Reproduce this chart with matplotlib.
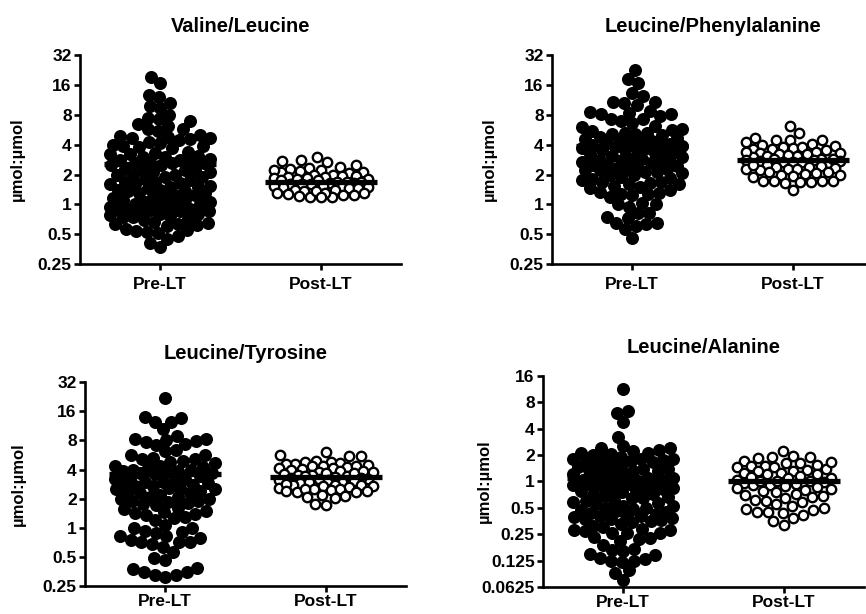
import numpy as np
import matplotlib.pyplot as plt

plt.rcParams['font.family'] = ['Liberation Sans', 'DejaVu Sans']
plt.rcParams['font.weight'] = 'bold'

groups = ['Pre-LT', 'Post-LT']
titles = ['Valine/Leucine', 'Leucine/Phenylalanine', 'Leucine/Tyrosine', 'Leucine/Alanine']
ylabel = 'µmol:µmol'

# values (µmol:µmol)
val_leu_pre = [19.5, 16.9, 12.8, 12.0, 10.6, 9.3, 9.8, 8.0, 7.2, 7.4, 6.5, 6.9,
               5.7, 5.7, 6.2, 5.5, 5.0, 4.7, 4.9, 4.8, 4.6, 4.7, 4.5, 4.3,
               4.2, 4.0, 3.9, 3.8, 3.7, 3.9, 3.4, 3.2, 3.0, 3.3, 3.1, 3.2, 2.9, 3.0,
               2.8, 2.7, 2.6, 2.5, 2.6, 2.7, 2.5, 2.8, 2.6,
               2.3, 2.2, 2.1, 2.0, 1.9, 2.0, 2.1, 2.2, 1.9, 1.8, 2.0, 2.2,
               1.75, 1.7, 1.6, 1.65, 1.5, 1.55, 1.6, 1.7, 1.45, 1.5,
               1.4, 1.35, 1.3, 1.25, 1.3, 1.35, 1.4, 1.2, 1.25,
               1.15, 1.1, 1.05, 1.0, 1.0, 1.1, 1.05, 1.15, 0.98, 1.02,
               0.95, 0.9, 0.88, 0.85, 0.9, 0.92, 0.87, 0.85, 0.9,
               0.8, 0.78, 0.75, 0.72, 0.8, 0.76, 0.74, 0.7,
               0.66, 0.64, 0.62, 0.6, 0.65, 0.63, 0.55, 0.57, 0.52, 0.54,
               0.45, 0.53, 0.48, 0.41, 0.37]
val_leu_post = [3.0, 2.8, 2.75, 2.7, 2.5, 2.4, 2.35, 2.3,
                2.2, 2.15, 2.1, 2.05, 2.2, 2.1, 2.0, 2.0,
                1.95, 1.9, 1.85, 1.9, 1.8, 1.85, 1.95, 1.8,
                1.75, 1.7, 1.65, 1.6, 1.7, 1.75, 1.65, 1.6, 1.7, 1.62,
                1.55, 1.5, 1.45, 1.5, 1.4, 1.55, 1.45, 1.4, 1.5,
                1.35, 1.3, 1.25, 1.3, 1.2, 1.35, 1.25, 1.2, 1.3, 1.28, 1.22, 1.18]

leu_phe_pre = [22.6, 18.4, 16.6, 13.4, 12.4, 10.9, 10.9, 10.6, 10.0,
               8.7, 8.4, 8.1, 7.8, 8.1, 8.5, 7.2, 6.6, 6.9, 7.3,
               6.0, 6.2, 5.7, 5.6, 5.3, 5.1, 5.1, 5.2, 5.5, 5.0,
               4.8, 4.6, 4.5, 4.4, 4.2, 4.1, 4.0, 4.3, 4.7, 4.0, 4.2,
               3.9, 3.8, 3.7, 3.6, 3.5, 3.4, 3.3, 3.2, 3.1, 3.0, 3.5, 3.7, 3.3,
               2.9, 2.8, 2.7, 2.6, 2.5, 2.4, 2.8, 2.6, 2.5, 2.7, 2.9, 2.45,
               2.3, 2.2, 2.1, 2.0, 2.0, 2.2, 2.35, 2.1, 2.05, 2.25,
               1.9, 1.8, 1.7, 1.6, 1.55, 1.65, 1.75, 1.85, 1.6, 1.5, 1.7,
               1.34, 1.27, 1.24, 1.2, 1.28, 1.4, 1.45, 1.3,
               1.04, 0.95, 1.0, 1.0, 0.82, 0.75, 0.73, 0.82,
               0.65, 0.61, 0.56, 0.64, 0.65, 0.46]
leu_phe_post = [6.15, 5.3, 4.7, 4.5, 4.5, 4.5, 4.3,
                4.0, 3.9, 3.8, 3.7, 3.6, 3.8, 3.5, 4.1, 3.6,
                3.4, 3.3, 3.25, 3.2, 3.1, 3.0, 3.3, 3.15, 3.05, 3.4,
                2.9, 2.85, 2.8, 2.75, 2.7, 2.65, 2.6, 2.8, 2.9, 2.7, 2.75,
                2.5, 2.45, 2.4, 2.35, 2.3, 2.25, 2.2, 2.4, 2.5, 2.3,
                2.1, 2.05, 2.0, 2.0, 1.95, 2.1, 2.02, 1.9,
                1.72, 1.72, 1.68, 1.7, 1.72, 1.72, 1.65, 1.39]

leu_tyr_pre = [21.8, 14.0, 13.7, 12.5, 12.3, 10.4,
               8.3, 8.1, 7.4, 7.2, 8.8, 7.6, 7.8, 8.3,
               6.2, 5.6, 5.1, 5.1, 5.7, 6.3, 4.7, 5.2, 4.8, 4.9,
               4.4, 4.2, 4.0, 3.9, 3.8, 3.7, 4.1, 3.6, 4.3, 3.9, 3.7, 4.0,
               3.4, 3.2, 3.0, 2.9, 3.3, 3.1, 2.8, 3.0, 3.2, 2.9,
               2.7, 2.6, 2.5, 2.4, 2.3, 2.2, 2.6, 2.5, 2.4, 2.7, 2.3,
               2.1, 2.0, 1.9, 1.8, 1.75, 2.0, 1.9, 1.72, 2.1, 1.85,
               1.6, 1.5, 1.42, 1.36, 1.3, 1.21, 1.28, 1.39, 1.55, 1.45,
               1.0, 0.94, 1.08, 0.91, 1.0, 0.82, 0.76, 0.89, 0.82, 0.79,
               0.64, 0.71, 0.71, 0.71, 0.68, 0.57, 0.49, 0.47,
               0.39, 0.35, 0.33, 0.31, 0.33, 0.35, 0.38]
leu_tyr_post = [6.1, 5.5, 5.5, 5.7,
                4.75, 4.75, 4.6, 4.9, 4.5, 4.7, 4.6,
                4.4, 4.3, 4.2, 4.1, 4.0, 3.9, 4.35, 4.15, 4.05,
                3.8, 3.7, 3.6, 3.5, 3.45, 3.75, 3.55, 3.65, 3.85, 3.4,
                3.3, 3.2, 3.1, 3.0, 3.25, 3.15, 3.05, 3.35, 3.2,
                2.9, 2.8, 2.7, 2.6, 2.85, 2.75, 2.65, 2.95, 2.8, 2.7,
                2.5, 2.45, 2.4, 2.36, 2.5, 2.4, 2.35, 2.55,
                2.2, 2.1, 2.02, 2.15, 1.73, 1.75]

leu_ala_pre = [11.3, 6.3, 6.0, 4.7, 3.2,
               2.5, 2.4, 2.4, 2.2, 2.1, 2.05, 2.0, 2.3, 2.1,
               1.9, 1.8, 1.8, 1.8, 1.73, 1.8, 1.7, 1.6, 1.55, 1.65, 1.75,
               1.45, 1.4, 1.35, 1.3, 1.25, 1.2, 1.4, 1.3, 1.45, 1.2, 1.35,
               1.1, 1.05, 1.0, 0.95, 0.9, 1.1, 1.0, 0.92, 1.08, 0.98, 1.05, 0.94,
               0.88, 0.85, 0.8, 0.75, 0.72, 0.82, 0.78, 0.86, 0.7, 0.8,
               0.68, 0.65, 0.6, 0.58, 0.55, 0.62, 0.66, 0.57, 0.64,
               0.52, 0.5, 0.48, 0.45, 0.43, 0.5, 0.47, 0.44, 0.53, 0.46,
               0.41, 0.4, 0.38, 0.37, 0.35, 0.34, 0.39, 0.36, 0.4, 0.33, 0.37,
               0.31, 0.29, 0.28, 0.27, 0.26, 0.26, 0.3, 0.26, 0.28,
               0.23, 0.226, 0.21, 0.19, 0.22, 0.17, 0.16, 0.167, 0.146, 0.15,
               0.134, 0.125, 0.12, 0.125, 0.13, 0.097, 0.091, 0.076]
leu_ala_post = [2.2, 1.96, 1.88, 1.88, 1.84,
                1.7, 1.6, 1.55, 1.51, 1.5, 1.45, 1.39, 1.65, 1.6, 1.45,
                1.35, 1.3, 1.25, 1.2, 1.15, 1.1, 1.3, 1.2, 1.25, 1.12,
                1.05, 1.0, 0.95, 0.92, 1.08, 0.98, 1.02, 0.94, 0.9, 1.0,
                0.88, 0.85, 0.8, 0.75, 0.72, 0.82, 0.78, 0.86, 0.7,
                0.68, 0.65, 0.6, 0.58, 0.55, 0.62, 0.66,
                0.52, 0.5, 0.48, 0.45, 0.45, 0.47, 0.44, 0.41, 0.38, 0.35, 0.32]

pre_data = [val_leu_pre, leu_phe_pre, leu_tyr_pre, leu_ala_pre]
post_data = [val_leu_post, leu_phe_post, leu_tyr_post, leu_ala_post]
pre_lines = [2.54, 3.9, 3.6, 1.09]
post_lines = [1.68, 2.8, 3.35, 1.0]

yticks_a = [0.25, 0.5, 1, 2, 4, 8, 16, 32]
yticklabels_a = ['0.25', '0.5', '1', '2', '4', '8', '16', '32']
yticks_b = [0.0625, 0.125, 0.25, 0.5, 1, 2, 4, 8, 16]
yticklabels_b = ['0.0625', '0.125', '0.25', '0.5', '1', '2', '4', '8', '16']


def swarm_offsets(ypix, diam, half_width):
    """Beeswarm-style x offsets (pixels), clamped to a band."""
    order = np.argsort(ypix)
    placed = []
    xs = np.zeros(len(ypix))
    for i in order:
        y = ypix[i]
        near = [(px, py) for px, py in placed if abs(py - y) < diam]
        cands = [0.0]
        for px, py in near:
            dx = np.sqrt(diam ** 2 - (py - y) ** 2)
            cands += [px - dx, px + dx]
        cands = sorted(cands, key=abs)
        best = None
        for c in cands:
            if abs(c) > half_width:
                continue
            if all((c - px) ** 2 + (y - py) ** 2 >= diam ** 2 - 1e-6 for px, py in near):
                best = c
                break
        if best is None:
            grid = np.linspace(-half_width, half_width, 41)
            best = max(grid, key=lambda c: min((c - px) ** 2 + (y - py) ** 2 for px, py in near))
        xs[i] = best
        placed.append((best, y))
    return xs


fig = plt.figure(figsize=(8.66, 6.14), dpi=100)
rects = [[0.0924, 0.570, 0.3707, 0.340],
         [0.6374, 0.570, 0.3707, 0.340],
         [0.0982, 0.045, 0.3707, 0.333],
         [0.6270, 0.044, 0.3707, 0.344]]
label_x = [-0.172, -0.172, -0.184, -0.16]

for k in range(4):
    ax = fig.add_axes(rects[k])
    ax.set_yscale('log', base=2)
    if k == 3:
        ax.set_ylim(0.0625, 16)
        ax.set_yticks(yticks_b)
        ax.set_yticklabels(yticklabels_b)
    else:
        ax.set_ylim(0.25, 32)
        ax.set_yticks(yticks_a)
        ax.set_yticklabels(yticklabels_a)
    ax.minorticks_off()
    ax.set_xlim(-0.5, 1.5)
    ax.set_xticks([0, 1])
    ax.set_xticklabels(groups)

    x0, x1 = ax.transData.transform([(0, 1), (1, 1)])[:, 0]
    px_per_unit = x1 - x0

    for g, vals in enumerate([pre_data[k], post_data[k]]):
        vals = np.asarray(vals)
        ypix = ax.transData.transform(np.column_stack([np.full(len(vals), g), vals]))[:, 1]
        off = swarm_offsets(ypix, 11.0, 50.0 if g == 0 else 47.0)
        xs = g + off / px_per_unit
        if g == 0:
            ax.scatter(xs, vals, s=88, color='black', linewidths=0, zorder=3, clip_on=False)
        else:
            ax.scatter(xs, vals, s=46, facecolor='white', edgecolor='black',
                       linewidths=1.7, zorder=3, clip_on=False)

    for g, m in enumerate([pre_lines[k], post_lines[k]]):
        ax.plot([g - 0.35, g + 0.35], [m, m], color='black', lw=3.8,
                solid_capstyle='butt', zorder=4)

    for side in ['top', 'right']:
        ax.spines[side].set_visible(False)
    for side in ['left', 'bottom']:
        ax.spines[side].set_linewidth(1.9)
    ax.tick_params(axis='both', width=1.9, length=4, labelsize=12.5, pad=2)
    ax.tick_params(axis='x', pad=5 if k < 2 else 1.5)
    ax.set_title(titles[k], fontsize=14.5, fontweight='bold', pad=16.5)
    ax.set_ylabel(ylabel, fontsize=12, fontweight='bold')
    ax.yaxis.set_label_coords(label_x[k], 0.5)

fig.savefig('out.png', dpi=100)
